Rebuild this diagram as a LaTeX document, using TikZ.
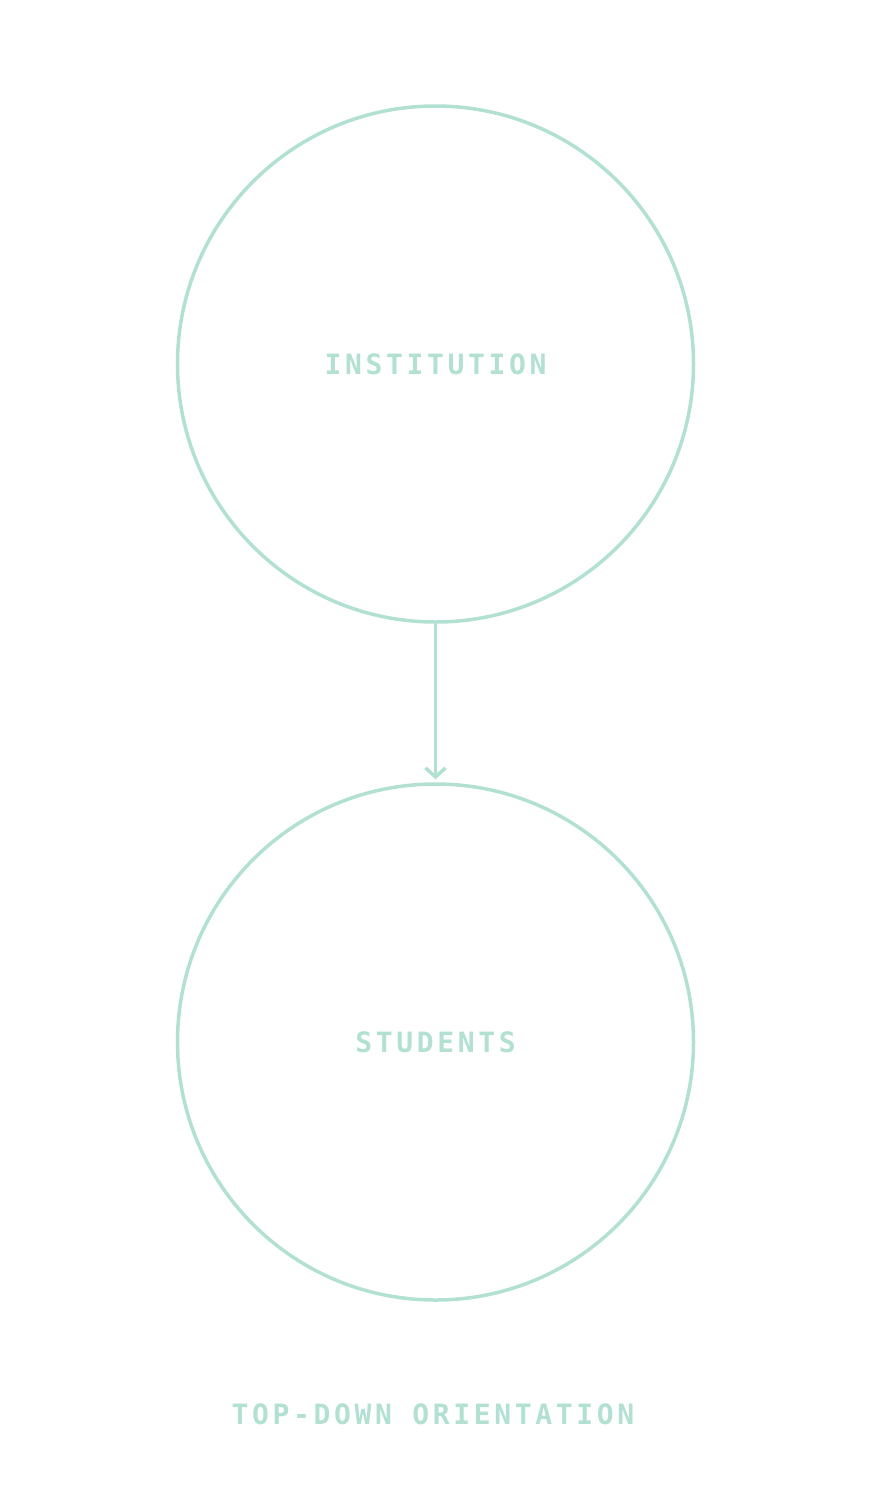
\documentclass[tikz,border=0pt]{standalone}
\usepackage{fontspec}
\setmainfont{DejaVu Sans}
\newfontfamily\labelfont[LetterSpace=13]{DejaVu Sans Mono Bold}
\usetikzlibrary{arrows.meta}
\definecolor{mint}{HTML}{B2E0D2}
\tikzset{
  circ/.style={circle, draw=mint, line width=3.5pt, minimum size=516pt, inner sep=0pt, text=mint, font=\labelfont\fontsize{28}{29}\selectfont},
  conn/.style={draw=mint, line width=3.5pt, -{Straight Barb[length=9pt, width=20pt, line width=3.5pt]}, shorten >=3pt},
  caption/.style={text=mint, font=\labelfont\fontsize{28}{29}\selectfont}
}
\begin{document}
\begin{tikzpicture}[x=1pt, y=-1pt]
\useasboundingbox (0,0) rectangle (875,1500);
\node[circ] (inst) at (435.5,364) {INSTITUTION};
\node[circ] (stud) at (435.5,1042) {STUDENTS};
\draw[conn] (inst.south) -- (stud.north);
\node[caption] (cap) at (433,1414) {TOP-DOWN ORIENTATION};
\end{tikzpicture}
\end{document}
